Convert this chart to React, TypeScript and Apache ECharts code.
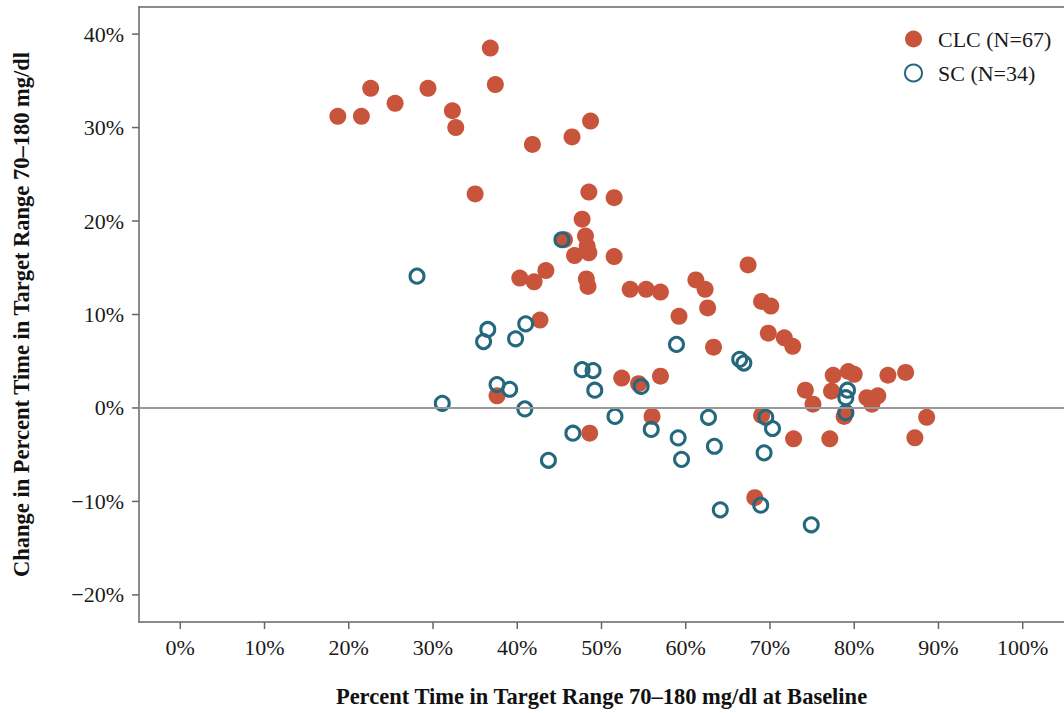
import React, { useEffect, useRef } from "react";
import * as echarts from "echarts";

const clcX = [18.7, 21.5, 22.6, 25.5, 29.4, 32.3, 32.7, 36.8, 37.4, 35.0, 41.8, 46.5, 48.7, 48.5, 51.5, 47.7, 45.6, 48.1, 48.3, 48.5, 46.8, 51.5, 40.3, 42.0, 43.4, 48.2, 48.4, 53.4, 55.3, 57.0, 59.2, 61.2, 62.3, 62.6, 63.3, 67.4, 69.0, 70.1, 69.8, 71.7, 72.7, 52.4, 54.4, 57.0, 56.0, 48.6, 69.0, 68.2, 72.8, 77.1, 74.2, 75.1, 77.5, 77.3, 79.3, 80.0, 78.8, 79.0, 81.5, 82.8, 82.1, 84.0, 86.1, 87.2, 88.6, 37.6, 42.7];
const clcY = [31.2, 31.2, 34.2, 32.6, 34.2, 31.8, 30.0, 38.5, 34.6, 22.9, 28.2, 29.0, 30.7, 23.1, 22.5, 20.2, 18.0, 18.4, 17.3, 16.6, 16.3, 16.2, 13.9, 13.5, 14.7, 13.8, 13.0, 12.7, 12.7, 12.4, 9.8, 13.7, 12.7, 10.7, 6.5, 15.3, 11.4, 10.9, 8.0, 7.5, 6.6, 3.2, 2.6, 3.4, -0.9, -2.7, -0.8, -9.6, -3.3, -3.3, 1.9, 0.4, 3.5, 1.8, 3.9, 3.6, -0.9, -0.5, 1.1, 1.3, 0.4, 3.5, 3.8, -3.2, -1.0, 1.3, 9.4];

const scX = [28.1, 31.1, 36.5, 36.0, 41.0, 39.8, 37.6, 39.1, 40.9, 45.3, 47.7, 49.0, 49.2, 51.6, 46.6, 54.7, 43.7, 55.9, 58.9, 59.1, 59.5, 62.7, 63.4, 64.1, 66.4, 66.9, 69.5, 70.3, 69.3, 68.9, 74.9, 79.2, 79.0, 79.0];
const scY = [14.1, 0.5, 8.4, 7.1, 9.0, 7.4, 2.5, 2.0, -0.1, 18.0, 4.1, 4.0, 1.9, -0.9, -2.7, 2.3, -5.6, -2.3, 6.8, -3.2, -5.5, -1.0, -4.1, -10.9, 5.2, 4.8, -1.0, -2.2, -4.8, -10.4, -12.5, 1.9, 1.1, -0.5];

const xTicks = [0, 10, 20, 30, 40, 50, 60, 70, 80, 90, 100];
const yTicks = [-20, -10, 0, 10, 20, 30, 40];
const xRange = [-4.9, 104.9];
const yRange = [-22.9, 42.9];

const seriesNames = ["CLC (N=67)", "SC (N=34)"];
const xTitle = "Percent Time in Target Range 70\u2013180 mg/dl at Baseline";
const yTitle = "Change in Percent Time in Target Range 70\u2013180 mg/dl";

const RED = "#c8553b";
const TEAL = "#24687e";
const AXIS = "#666";
const FONT = "'Liberation Serif', 'Times New Roman', serif";
const TICK_LEN = 7;

export default function App() {
  const ref = useRef<HTMLDivElement>(null);
  useEffect(() => {
    if (!ref.current) return;
    const chart = echarts.init(ref.current, null, { renderer: "svg" });
    const clc = clcX.map((x, i) => [x, clcY[i]]);
    const sc = scX.map((x, i) => [x, scY[i]]);

    chart.setOption({
      animation: false,
      textStyle: { fontFamily: FONT },
      grid: { left: 139, top: 7, right: -11, bottom: 90, show: false },
      legend: {
        orient: "vertical",
        left: 899,
        top: 23,
        itemWidth: 17,
        itemHeight: 17,
        itemGap: 12,
        data: seriesNames,
        textStyle: { fontFamily: FONT, fontSize: 22, color: "#1a1a1a", padding: [0, 0, 0, 11] },
      },
      xAxis: [
        {
          type: "value",
          position: "bottom",
          min: xRange[0],
          max: xRange[1],
          name: xTitle,
          nameLocation: "middle",
          nameGap: 63,
          nameTextStyle: { fontFamily: FONT, fontSize: 22.5, fontWeight: "bold", color: "#111" },
          axisLine: { show: true, onZero: false, lineStyle: { color: AXIS, width: 1.5 } },
          axisTick: { show: false },
          axisLabel: {
            customValues: xTicks,
            formatter: (v: number) => `${v}%`,
            fontFamily: FONT,
            fontSize: 22,
            color: "#1a1a1a",
            margin: 14,
          },
          splitLine: { show: false },
        },
        {
          type: "value",
          position: "top",
          min: xRange[0],
          max: xRange[1],
          axisLine: { show: true, onZero: false, lineStyle: { color: AXIS, width: 1.5 } },
          axisTick: { show: false },
          axisLabel: { show: false },
          splitLine: { show: false },
        },
      ],
      yAxis: {
        type: "value",
        position: "left",
        min: yRange[0],
        max: yRange[1],
        name: yTitle,
        nameLocation: "middle",
        nameGap: 106,
        nameTextStyle: { fontFamily: FONT, fontSize: 22.5, fontWeight: "bold", color: "#111" },
        axisLine: { show: true, onZero: false, lineStyle: { color: AXIS, width: 1.5 } },
        axisTick: { show: false },
        axisLabel: {
          customValues: yTicks,
          formatter: (v: number) => (v < 0 ? `\u2212${-v}%` : `${v}%`),
          fontFamily: FONT,
          fontSize: 22,
          color: "#1a1a1a",
          margin: 15,
        },
        splitLine: { show: false },
      },
      series: [
        {
          type: "custom",
          name: "xticks",
          clip: false,
          silent: true,
          z: 5,
          data: xTicks.map((v) => [v, yRange[0]]),
          renderItem: (params: any, api: any) => {
            const p = api.coord([api.value(0), api.value(1)]);
            return {
              type: "rect",
              shape: { x: p[0] - 0.75, y: p[1], width: 1.5, height: TICK_LEN },
              style: { fill: AXIS },
            };
          },
        },
        {
          type: "custom",
          name: "yticks",
          clip: false,
          silent: true,
          z: 5,
          data: yTicks.map((v) => [xRange[0], v]),
          renderItem: (params: any, api: any) => {
            const p = api.coord([api.value(0), api.value(1)]);
            return {
              type: "rect",
              shape: { x: p[0] - TICK_LEN, y: p[1] - 0.75, width: TICK_LEN, height: 1.5 },
              style: { fill: AXIS },
            };
          },
        },
        {
          type: "scatter",
          name: "zero",
          data: [],
          z: 1,
          silent: true,
          markLine: {
            silent: true,
            symbol: ["none", "none"],
            label: { show: false },
            lineStyle: { color: "#999", width: 2, type: "solid" },
            data: [{ yAxis: 0 }],
          },
        },
        {
          type: "scatter",
          name: seriesNames[0],
          data: clc,
          z: 2,
          symbol: "circle",
          symbolSize: 17,
          itemStyle: { color: RED, opacity: 1 },
        },
        {
          type: "scatter",
          name: seriesNames[1],
          data: sc,
          z: 3,
          symbol: "circle",
          symbolSize: 14,
          itemStyle: { color: "rgba(255,255,255,0)", borderColor: TEAL, borderWidth: 3, opacity: 1 },
        },
      ],
    });
    return () => chart.dispose();
  }, []);
  return (
    <div
      ref={ref}
      style={{ position: "fixed", left: 0, top: 0, width: 1064, height: 713, background: "#fff" }}
    />
  );
}
